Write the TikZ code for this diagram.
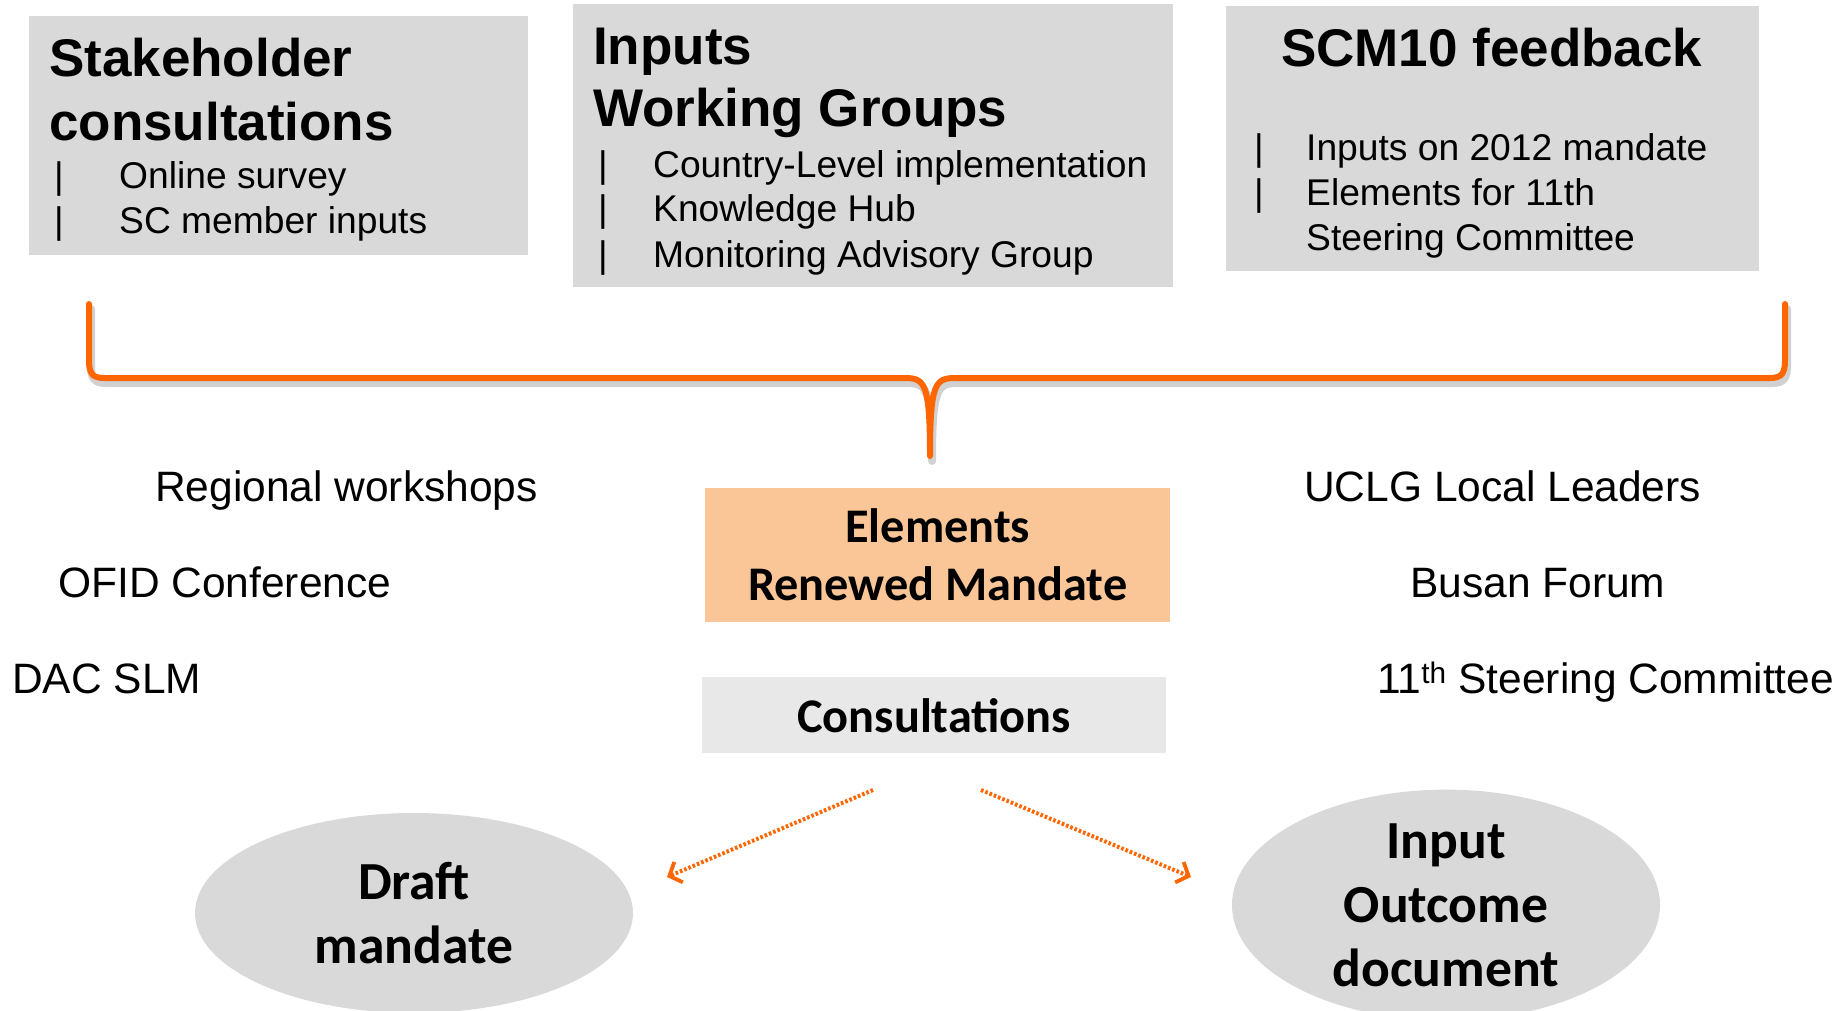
\documentclass[tikz,border=0pt]{standalone}
\usepackage{fontspec}
\setmainfont{Liberation Sans}
\newfontfamily\calib{Carlito}
\usetikzlibrary{arrows.meta,shapes.geometric}
\definecolor{boxgray}{HTML}{D9D9D9}
\definecolor{paleg}{HTML}{E8E8E8}
\definecolor{peach}{HTML}{FAC697}
\definecolor{brorange}{HTML}{FF6600}
\begin{document}
\begin{tikzpicture}[x=1pt,y=-1pt,
  graybox/.style={fill=boxgray, draw=none, inner sep=0pt, anchor=north west},
  boxtitle/.style={anchor=base west, inner sep=0pt, font=\fontsize{53}{63}\selectfont\bfseries},
  bar/.style={anchor=base west, inner sep=0pt, font=\fontsize{37}{44}\selectfont},
  bulletitem/.style={anchor=base west, inner sep=0pt, font=\fontsize{37.2}{44}\selectfont},
  sidelabel/.style={anchor=base west, inner sep=0pt, font=\fontsize{42.5}{50}\selectfont},
  calbox/.style={draw=none, inner sep=0pt, anchor=north west, align=center,
    font=\calib\fontsize{48.3}{58}\selectfont\bfseries},
  blob/.style={ellipse, fill=boxgray, draw=none, inner sep=0pt, align=center,
    font=\calib\fontsize{53.6}{64}\selectfont\bfseries},
  bracepath/.style={draw=brorange, line width=6pt, line cap=round, line join=round},
  braceshadow/.style={draw=black, opacity=0.18, line width=8pt, line cap=round, line join=round},
  dotarrow/.style={draw=brorange, line width=4pt, dash pattern=on 2.6pt off 2pt,
    -{Straight Barb[length=10pt,width=22pt,line width=3.8pt]}}
]
\fill[white] (0,0) rectangle (1845,1011);
\clip (0,0) rectangle (1845,1011);

% top boxes
\node[graybox, minimum width=499pt, minimum height=239pt] (b1) at (29,16) {};
\node[graybox, minimum width=600pt, minimum height=283pt] (b2) at (573,4) {};
\node[graybox, minimum width=533pt, minimum height=265pt] (b3) at (1226,6) {};

% box 1 text
\node[boxtitle] (t1a) at (49,77) {Stakeholder};
\node[boxtitle] (t1b) at (49,141) {consultations};
\node[bar] (p1a) at (54,189) {|};
\node[bulletitem] (i1a) at (119,189) {Online survey};
\node[bar] (p1b) at (54,234) {|};
\node[bulletitem] (i1b) at (119,234) {SC member inputs};

% box 2 text
\node[boxtitle] (t2a) at (593,65) {Inputs};
\node[boxtitle] (t2b) at (593,127) {Working Groups};
\node[bar] (p2a) at (598,178) {|};
\node[bulletitem] (i2a) at (653,178) {Country-Level implementation};
\node[bar] (p2b) at (598,222) {|};
\node[bulletitem] (i2b) at (653,222) {Knowledge Hub};
\node[bar] (p2c) at (598,267) {|};
\node[bulletitem] (i2c) at (653,267) {Monitoring Advisory Group};

% box 3 text
\node[boxtitle] (t3a) at (1281,67) {SCM10 feedback};
\node[bar] (p3a) at (1254,161) {|};
\node[bulletitem] (i3a) at (1306,161) {Inputs on 2012 mandate};
\node[bar] (p3b) at (1254,206) {|};
\node[bulletitem] (i3b) at (1306,206) {Elements for 11th};
\node[bulletitem] (i3c) at (1306,251) {Steering Committee};

% brace
\coordinate (brL) at (89,304);
\coordinate (brR) at (1785,304);
\coordinate (brTip) at (930,456);
\path[braceshadow, transform canvas={shift={(2pt,-5pt)}}]
  (brL) -- (89,360) .. controls (89,373) and (92,378) .. (104,378) -- (905,378)
  .. controls (925,378) and (930,384) .. (brTip)
  .. controls (930,384) and (935,378) .. (955,378) -- (1770,378)
  .. controls (1782,378) and (1785,373) .. (1785,360) -- (brR);
\path[bracepath]
  (brL) -- (89,360) .. controls (89,373) and (92,378) .. (104,378) -- (905,378)
  .. controls (925,378) and (930,384) .. (brTip)
  .. controls (930,384) and (935,378) .. (955,378) -- (1770,378)
  .. controls (1782,378) and (1785,373) .. (1785,360) -- (brR);

% side labels
\node[sidelabel] (l1) at (155,501) {Regional workshops};
\node[sidelabel] (l2) at (58,597) {OFID Conference};
\node[sidelabel] (l3) at (12,693) {DAC SLM};
\node[sidelabel] (r1) at (1304,501) {UCLG Local Leaders};
\node[sidelabel] (r2) at (1410,597) {Busan Forum};
\node[sidelabel] (r3) at (1377,693) {11\textsuperscript{th} Steering Committee};

% centre boxes
\node[calbox, fill=peach, minimum width=465pt, minimum height=134pt] (elem) at (705,488)
  {Elements\\Renewed Mandate};
\node[calbox, fill=paleg, minimum width=464pt, minimum height=76pt] (cons) at (702,677)
  {Consultations};

% ellipses
\node[blob, minimum width=438pt, minimum height=200pt] (draft) at (414,913) {Draft\\mandate};
\node[blob, minimum width=428pt, minimum height=228pt] (outc) at (1446,905) {Input\\Outcome\\document};

% arrows
\coordinate (a1s) at (873,790);
\coordinate (a1e) at (667,877);
\coordinate (a2s) at (981,790);
\coordinate (a2e) at (1191,877);
\draw[dotarrow] (a1s) -- (a1e);
\draw[dotarrow] (a2s) -- (a2e);
\end{tikzpicture}
\end{document}
